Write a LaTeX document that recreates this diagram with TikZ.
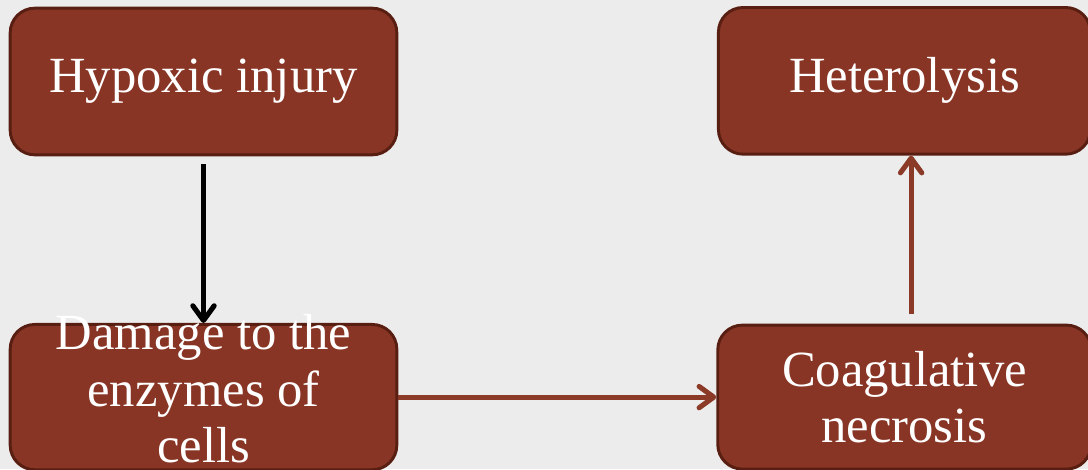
\documentclass[tikz,border=0pt]{standalone}
\usepackage{fontspec}
\setmainfont{Liberation Serif}
\usepackage{tikz}
\usetikzlibrary{positioning,arrows.meta}
\definecolor{boxfill}{RGB}{136,53,37}
\definecolor{boxline}{RGB}{88,30,18}
\definecolor{linkbrown}{RGB}{140,58,40}
\definecolor{paper}{RGB}{236,236,236}
\tikzset {
    style Box/.style={
        fill=boxfill,
        draw=boxline,
        line width=2.2pt,
        rectangle, % Set the shape as a rectangle
        rounded corners=.65cm,
        text=white,
        inner sep=0pt,
        align=center,
        font=\fontsize{38}{42.5}\selectfont,
    },
    style Link/.style={
        line width=3.8pt,
        -{Straight Barb[length=11pt,width=16pt,round]},
    },
}

\begin{document}
\begin{tikzpicture}[x=0.75pt, y=-0.75pt]
        \useasboundingbox (0,0) rectangle (1088,469);
        \fill[paper] (0,0) rectangle (1088,469);
        \node[style Box, minimum width=290pt, minimum height=110pt] (hyp) at (203.5,81.5) {\raisebox{-2pt}{Hypoxic injury}};
        \node[style Box, minimum width=290pt, minimum height=109pt, below=125pt of hyp] (dmg) {\raisebox{-9pt}{\smash{\begin{tabular}{@{}c@{}}Damage to the\\enzymes of\\cells\end{tabular}}}};
        \node[style Box, minimum width=280pt, minimum height=108pt, right=238.5pt of dmg] (coag) {Coagulative\\necrosis};
        \node[style Box, minimum width=279pt, minimum height=110pt, above=126pt of coag] (het) {\raisebox{-2pt}{Heterolysis}};
        % connectors
        \draw[style Link, black, shorten <=6pt] (hyp.south) -- (dmg.north);
        \draw[style Link, linkbrown] (dmg.east) -- (coag.west);
        \draw[style Link, linkbrown, shorten <=7pt] ([xshift=5pt]coag.north) -- ([xshift=5pt]het.south);
\end{tikzpicture}
\end{document}
